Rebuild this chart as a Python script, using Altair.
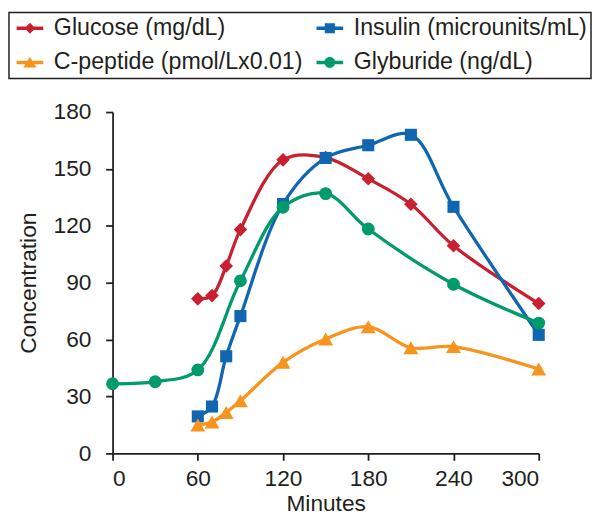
import altair as alt
import pandas as pd

# ---------------- data ----------------
series_names = ["Glucose (mg/dL)", "Insulin (microunits/mL)",
                "C-peptide (pmol/Lx0.01)", "Glyburide (ng/dL)"]
series_colors = ["#c8202f", "#1066b0", "#f7941e", "#009a6b"]

minutes_main = [60, 70, 80, 90, 120, 150, 180, 210, 240, 300]
glucose = [81.5, 83.2, 98.8, 118.0, 154.8, 156.0, 144.8, 131.4, 109.5, 79.0]
insulin = [19.5, 24.7, 51.2, 72.4, 131.5, 155.8, 162.5, 168.0, 130.0, 62.5]
cpeptide = [15.0, 16.5, 21.6, 27.7, 48.0, 60.3, 66.8, 55.7, 56.3, 44.5]

minutes_gly = [0, 30, 60, 90, 120, 150, 180, 240, 300]
glyburide = [36.7, 37.8, 44.0, 91.0, 129.8, 137.0, 118.3, 89.2, 68.7]

x_ticks = [0, 60, 120, 180, 240, 300]
y_ticks = [0, 30, 60, 90, 120, 150, 180]

rows = []
for m, v in zip(minutes_main, glucose):
    rows.append({"series": series_names[0], "min": m, "val": v})
for m, v in zip(minutes_main, insulin):
    rows.append({"series": series_names[1], "min": m, "val": v})
for m, v in zip(minutes_main, cpeptide):
    rows.append({"series": series_names[2], "min": m, "val": v})
for m, v in zip(minutes_gly, glyburide):
    rows.append({"series": series_names[3], "min": m, "val": v})
df = pd.DataFrame(rows)

# ---------------- legend symbols (line + marker), units: 1 = 6px ----------------
def line_part(x0=-1.333, x1=3.167, t=0.29):
    return f"M{x0},{-t} L{x1},{-t} L{x1},{t} L{x0},{t} Z"

cx = 0.917
diamond = f"M{cx},-0.92 L{cx+0.92},0 L{cx},0.92 L{cx-0.92},0 Z"
square = f"M{cx-0.85},-0.85 L{cx+0.85},-0.85 L{cx+0.85},0.85 L{cx-0.85},0.85 Z"
triangle = f"M{cx},-0.95 L{cx+1.1},0.85 L{cx-1.1},0.85 Z"
r = 0.92
circle = (f"M{cx-r},0 A{r},{r} 0 1,1 {cx+r},0 "
          f"A{r},{r} 0 1,1 {cx-r},0 Z")
legend_shapes = [line_part() + " " + s for s in [diamond, square, triangle, circle]]

FONT = "Liberation Sans"
INK = "#231f20"

color_scale = alt.Scale(domain=series_names, range=series_colors)
shape_scale = alt.Scale(domain=series_names, range=legend_shapes)

x_enc = alt.X("min:Q",
              scale=alt.Scale(domain=[0, 300], nice=False),
              axis=alt.Axis(values=x_ticks, title="Minutes", grid=False,
                            tickSize=7, labelPadding=8, titlePadding=2))
y_enc = alt.Y("val:Q",
              scale=alt.Scale(domain=[0, 180], nice=False),
              axis=alt.Axis(values=y_ticks, title="Concentration", grid=False,
                            tickSize=7, labelPadding=15, titlePadding=13))

marker_shapes = ["diamond", "square", "triangle-up", "circle"]
marker_sizes = [190, 150, 230, 170]

layers = []
for name, col, shp, sz in zip(series_names, series_colors, marker_shapes, marker_sizes):
    base = alt.Chart(df).transform_filter(alt.datum.series == name)
    line = base.mark_line(interpolate="catmull-rom", strokeWidth=3.3,
                          color=col).encode(x=x_enc, y=y_enc)
    pts = base.mark_point(filled=True, opacity=1, shape=shp, size=sz,
                          color=col).encode(x=x_enc, y=y_enc)
    layers += [line, pts]

leg = alt.Legend(orient="none", legendX=-105, legendY=-101, columns=2,
                 direction="horizontal",
                 title=None, labelFont=FONT, labelFontSize=23.5, labelColor=INK,
                 labelLimit=600, labelOffset=18, columnPadding=10, rowPadding=10,
                 padding=4, strokeColor=INK, symbolSize=144,
                 symbolStrokeWidth=0, symbolOpacity=1)

legend_layer = alt.Chart(df).transform_filter("datum.min < 0").mark_point(
    filled=True, size=144, opacity=1).encode(
    x=x_enc, y=y_enc,
    color=alt.Color("series:N", scale=color_scale, legend=leg),
    shape=alt.Shape("series:N", scale=shape_scale, legend=leg))
layers.append(legend_layer)

chart = alt.layer(*layers).properties(
    width=432, height=346,
    autosize=alt.AutoSizeParams(type="none"),
    padding={"left": 106, "top": 102, "right": 54, "bottom": 59},
).configure_view(stroke=None).configure_axis(
    labelFont=FONT, titleFont=FONT, labelFontSize=23, titleFontSize=23,
    labelColor=INK, titleColor=INK, domainColor=INK, tickColor=INK,
    domainWidth=1.8, tickWidth=1.8, titleFontWeight="normal",
).configure_legend(strokeWidth=1.5)

chart.save("out.html", embed_options={"renderer": "svg", "actions": False})
